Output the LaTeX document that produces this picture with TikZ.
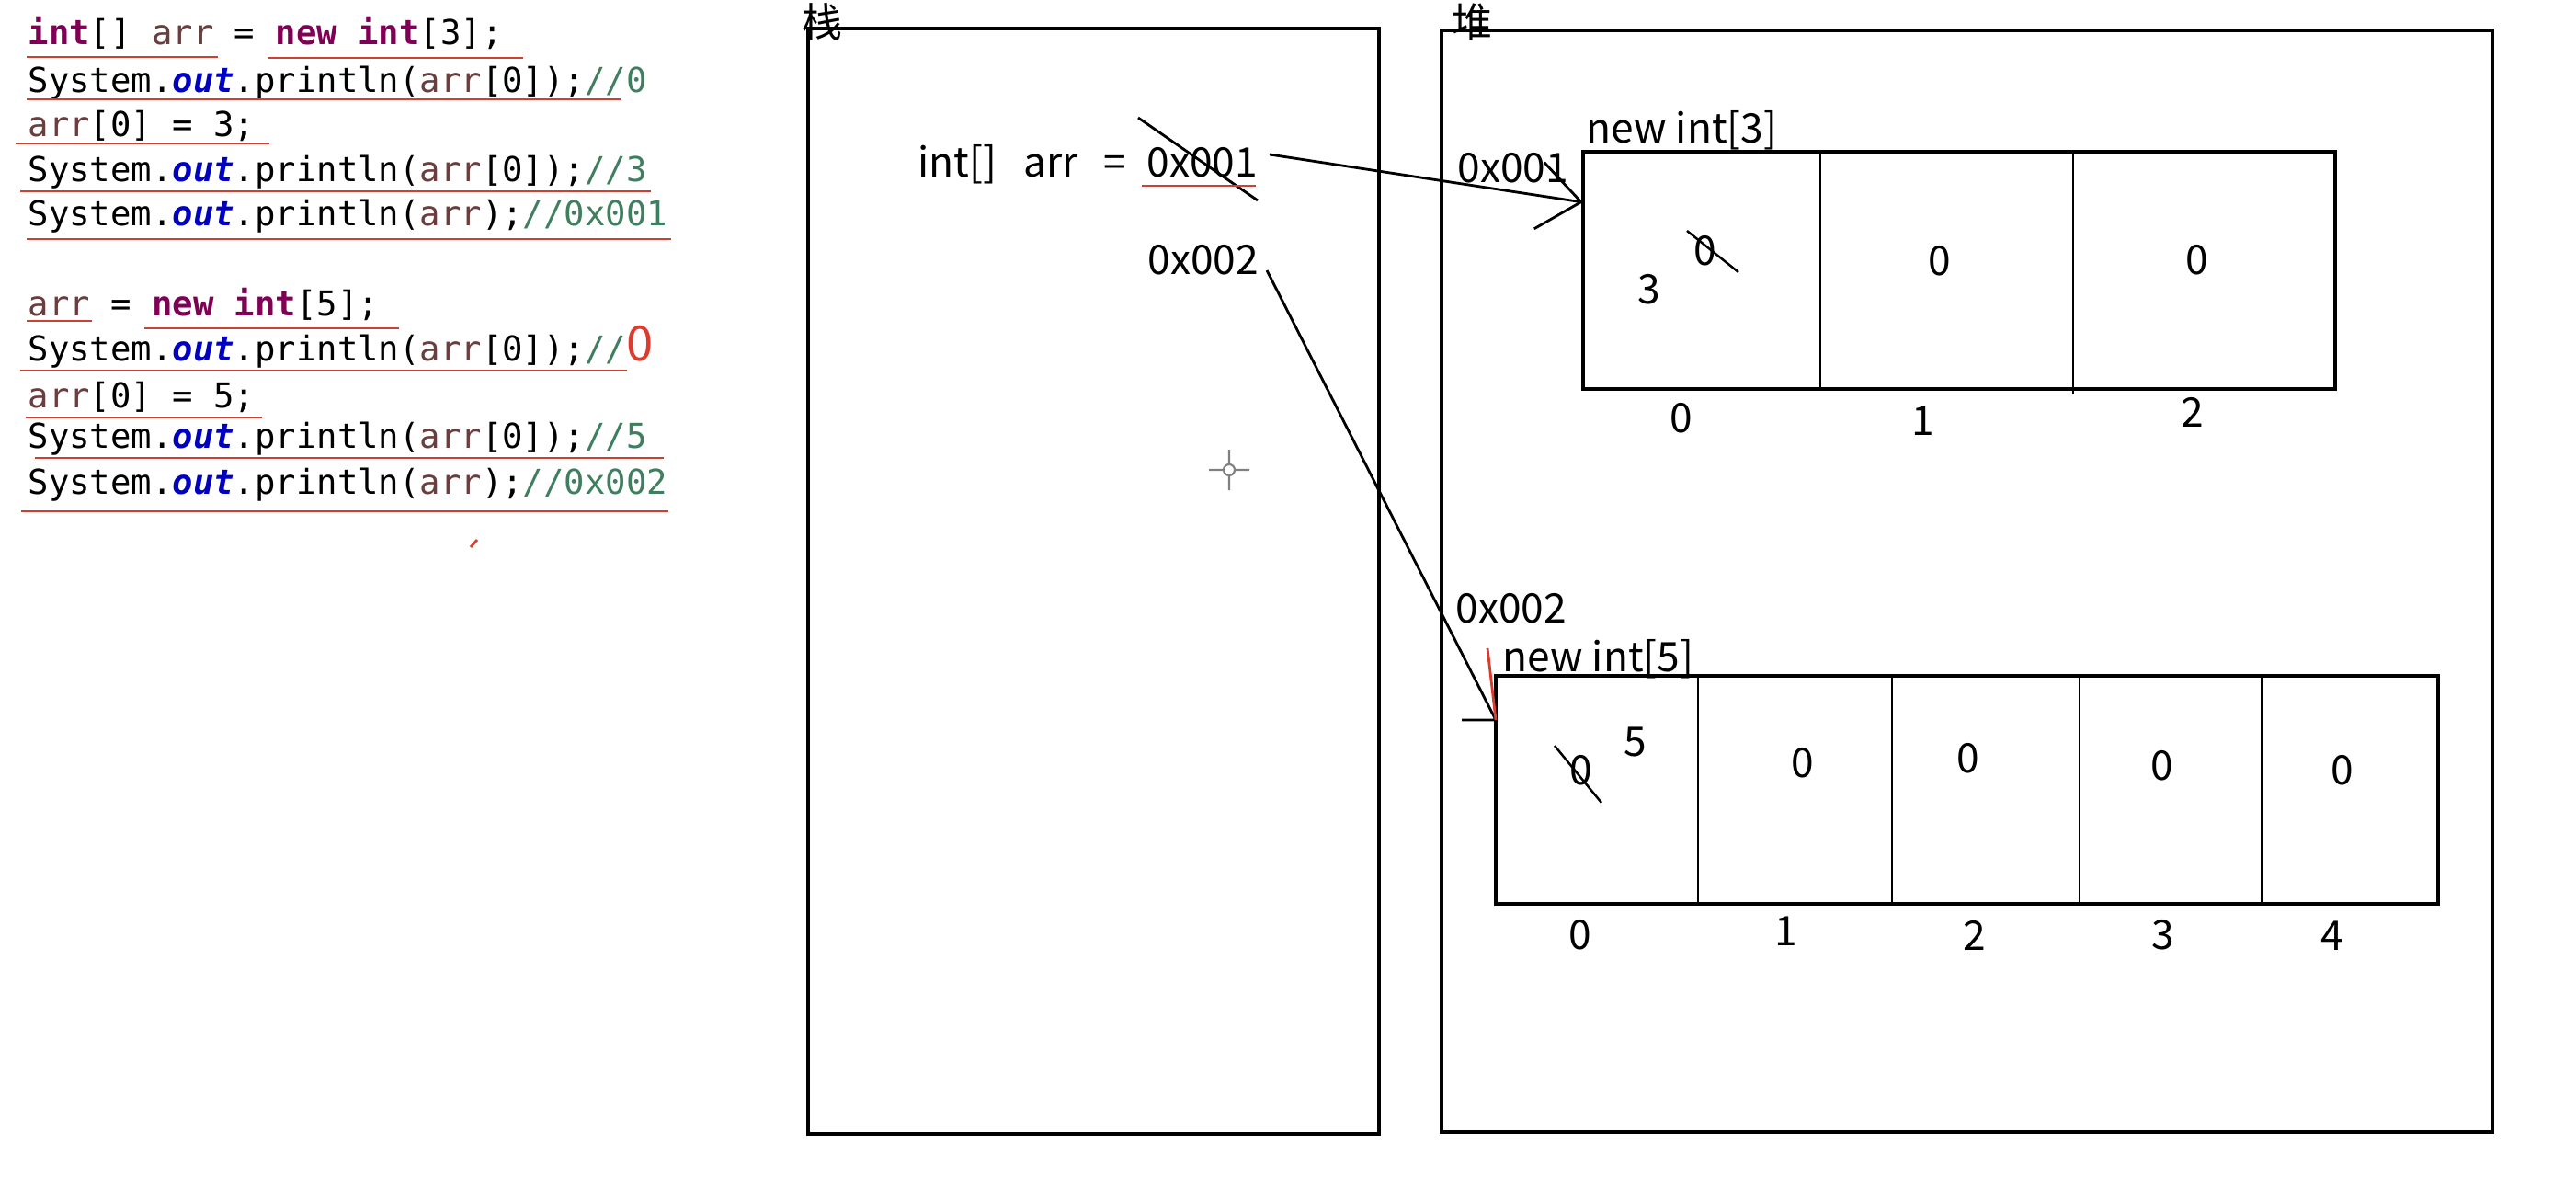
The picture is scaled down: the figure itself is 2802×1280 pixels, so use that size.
\documentclass[tikz,border=0pt]{standalone}
\usepackage{fontspec}
\usetikzlibrary{arrows.meta,calc}
\newfontfamily\cnfont{Noto Sans CJK SC}
\newfontfamily\codefont{DejaVu Sans Mono}
\definecolor{kwpurple}{RGB}{127,0,85}
\definecolor{fldblue}{RGB}{0,0,192}
\definecolor{varbrown}{RGB}{106,62,62}
\definecolor{cmtgreen}{RGB}{63,127,95}
\definecolor{ulred}{RGB}{205,65,50}
\definecolor{handred}{RGB}{220,60,45}
\newcommand\kw[1]{\textbf{\color{kwpurple}#1}}
\newcommand\fld[1]{\textbf{\textit{\color{fldblue}#1}}}
\newcommand\lv[1]{\textcolor{varbrown}{#1}}
\newcommand\cm[1]{\textcolor{cmtgreen}{#1}}

\begin{document}
\begin{tikzpicture}[x=0.1mm,y=-0.1mm,
  lbl/.style={font=\cnfont\fontsize{12.6}{15}\selectfont,inner sep=0pt},
  code/.style={font=\codefont\fontsize{10.6}{13}\selectfont,anchor=base west,inner sep=0pt},
  frame/.style={line width=0.9pt},
  uline/.style={draw=ulred,line width=0.8pt},
  ptr/.style={line width=0.8pt,-{Straight Barb[length=4.6mm,width=7.3mm]}}]
  \useasboundingbox[fill=white] (0,0) rectangle (2802,1280);
  % java code
  \node[code] (l1) at (30,48)  {\kw{int}[] \lv{arr} = \kw{new} \kw{int}[3];};
  \node[code] (l2) at (30,100) {System.\fld{out}.println(\lv{arr}[0]);\cm{//0}};
  \node[code] (l3) at (30,148) {\lv{arr}[0] = 3;};
  \node[code] (l4) at (30,197) {System.\fld{out}.println(\lv{arr}[0]);\cm{//3}};
  \node[code] (l5) at (30,245) {System.\fld{out}.println(\lv{arr});\cm{//0x001}};
  \node[code] (l6) at (30,343) {\lv{arr} = \kw{new} \kw{int}[5];};
  \node[code] (l7) at (30,392) {System.\fld{out}.println(\lv{arr}[0]);\cm{//}{\color{handred}\cnfont\fontsize{15}{16}\selectfont 0}};
  \node[code] (l8) at (30,443) {\lv{arr}[0] = 5;};
  \node[code] (l9) at (30,487) {System.\fld{out}.println(\lv{arr}[0]);\cm{//5}};
  \node[code] (l10) at (30,537) {System.\fld{out}.println(\lv{arr});\cm{//0x002}};
  \foreach \a/\b/\y in {29/237/62, 291/569/63, 29/675/108, 17/293/156, 22/708/208,
      29/730/260, 29/100/349, 157/434/357, 22/682/403, 28/285/454, 38/722/498, 23/727/556}
    \draw[uline] (\a,\y) -- (\b,\y);
  \draw[handred,line width=0.8pt] (519,587) -- (512,595);
  % stack and heap
  \draw[frame] (879,31) rectangle (1500,1233);
  \draw[frame] (1568,33) rectangle (2711,1231);
  \node[lbl,anchor=north west,font=\cnfont\fontsize{12.5}{14}\selectfont] (stk) at (872,3) {栈};
  \node[lbl,anchor=north west,font=\cnfont\fontsize{12.5}{14}\selectfont] (hp) at (1579,3) {堆};
  % the variable in the stack
  \node[lbl,anchor=base west] (decl) at (998,192) {int[]\hspace{2.9mm}arr\hspace{2.8mm}=};
  \node[lbl,anchor=base west] (a1) at (1247,192) {0x001};
  \node[lbl,anchor=base west] (a2) at (1248,298) {0x002};
  \draw[line width=0.8pt] (1238,128) -- (1368,218);
  \draw[uline] (1242,202) -- (1366,202);
  % new int[3]
  \node[lbl,anchor=base west] (h1) at (1585,198) {0x001};
  \node[lbl,anchor=base west] (n3) at (1725,155) {new int[3]};
  \draw[frame] (1722,165) rectangle (2540,423);
  \draw[line width=0.7pt] (1980,165) -- (1980,423) (2255,165) -- (2255,428);
  \node[lbl] (v30) at (1855,273) {0};
  \draw[line width=0.7pt] (1835,251) -- (1891,296);
  \node[lbl] (v30n) at (1794,315) {3};
  \node[lbl] (v31) at (2110,284) {0};
  \node[lbl] (v32) at (2390,283) {0};
  \foreach \x/\y/\k in {1829/455/0, 2092/458/1, 2385/448/2}
    \node[lbl] (i3\k) at (\x,\y) {\k};
  % new int[5]
  \node[lbl,anchor=base west] (h2) at (1583,677) {0x002};
  \node[lbl,anchor=base west] (n5) at (1634,730) {new int[5]};
  \draw[frame] (1627,735) rectangle (2652,983);
  \foreach \x in {1847,2058,2262,2460}
    \draw[line width=0.7pt] (\x,735) -- (\x,983);
  \node[lbl] (v50) at (1720,838) {0};
  \draw[line width=0.7pt] (1691,811) -- (1742,873);
  \node[lbl] (v50n) at (1779,807) {5};
  \foreach \x/\y/\k in {1961/830/1, 2141/825/2, 2352/833/3, 2548/838/4}
    \node[lbl] (v5\k) at (\x,\y) {0};
  \foreach \x/\y/\k in {1719/1017/0, 1943/1013/1, 2148/1017/2, 2353/1017/3, 2537/1018/4}
    \node[lbl] (i5\k) at (\x,\y) {\k};
  % references
  \coordinate (s1) at (1381,168);
  \coordinate (t1) at (1722,220);
  \coordinate (s2) at (1378,294);
  \coordinate (t2) at (1627,783);
  \draw[ptr] (s1) -- (t1);
  \draw[line width=0.8pt] (s2) -- (t2) -- ++(-37,0);
  \draw[handred,line width=0.8pt] (t2) -- ++(-9,-78);
  % mouse cursor
  \draw[gray,line width=0.6pt] (1337,511) circle (6)
    (1315,511) -- (1331,511) (1343,511) -- (1359,511)
    (1337,489) -- (1337,505) (1337,517) -- (1337,533);
\end{tikzpicture}
\end{document}
